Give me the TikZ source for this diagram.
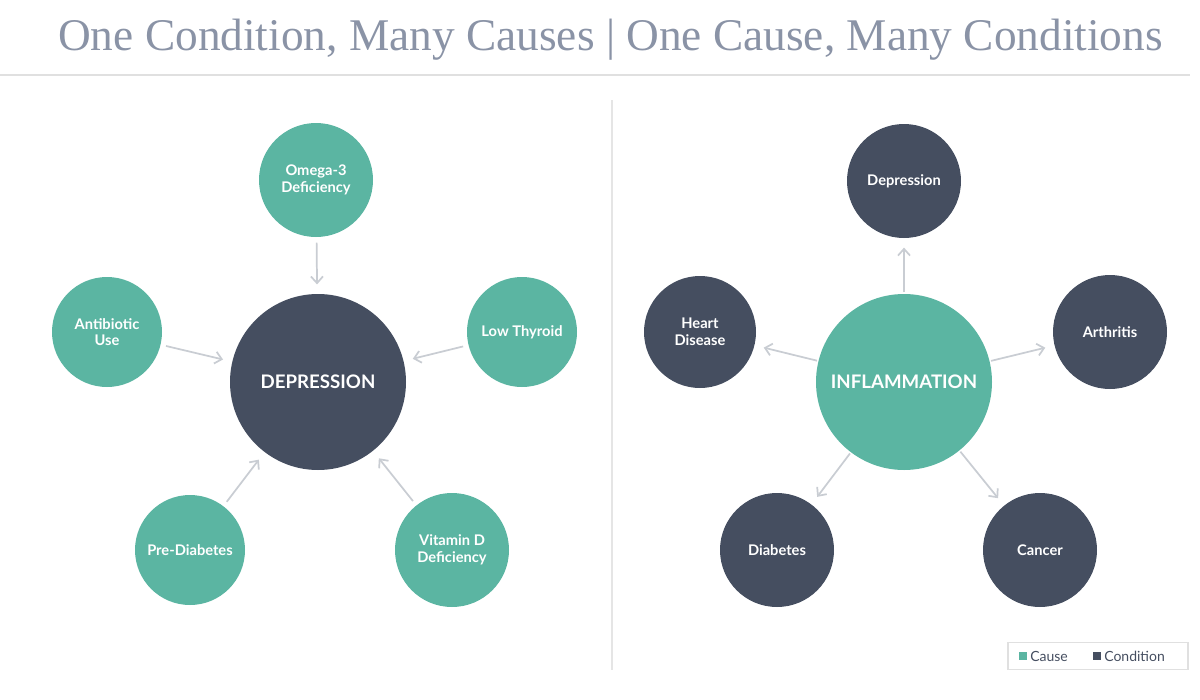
\documentclass[tikz,border=0pt]{standalone}
\usepackage{fontspec}
\setmainfont{Lato}
\newfontfamily\titlefont{Liberation Serif}
\usetikzlibrary{arrows.meta}
\definecolor{tealc}{HTML}{5BB5A2}
\definecolor{darkc}{HTML}{454E60}
\definecolor{ttl}{HTML}{8A93A6}
\definecolor{arrc}{HTML}{C9CDD3}
\begin{document}
\begin{tikzpicture}[x=0.75pt,y=-0.75pt,
  cause/.style={circle,fill=tealc,text=white,font=\bfseries\fontsize{11}{12.5}\selectfont,align=center,inner sep=0pt,minimum size=#1*0.75pt},
  cond/.style={circle,fill=darkc,text=white,font=\bfseries\fontsize{11}{12.5}\selectfont,align=center,inner sep=0pt,minimum size=#1*0.75pt},
  big/.style={font=\bfseries\fontsize{14}{16}\selectfont},
  arw/.style={draw=arrc,line width=1.3pt,-{Straight Barb[length=5pt,width=9pt]},shorten <=4pt,shorten >=7pt}]
\useasboundingbox (0,0) rectangle (1200,700);
\node[anchor=base west,text=ttl,font=\titlefont\fontsize{34}{36}\selectfont,inner sep=0pt] (title) at (58,50) {One Condition, Many Causes | One Cause, Many Conditions};
\draw[draw=black!12,line width=1pt] (0,75) -- (1190,75);
\draw[draw=black!10,line width=0.8pt] (612,100) -- (612,670);
% left
\node[cond=176,big] (dep) at (318,382) {DEPRESSION};
\node[cause=114] (om) at (316,180) {Omega-3\\Deficiency};
\node[cause=110] (ab) at (107,332) {Antibiotic\\Use};
\node[cause=110] (lt) at (522,332) {Low Thyroid};
\node[cause=110] (pd) at (190,550) {Pre-Diabetes};
\node[cause=114] (vd) at (452,550) {Vitamin D\\Deficiency};
\foreach \n in {om,ab,lt,pd,vd} \draw[arw] (\n) -- (dep);
% right
\node[cause=176,big] (inf) at (904,382) {INFLAMMATION};
\node[cond=114] (d2) at (904,181) {Depression};
\node[cond=112] (hd) at (700,332) {Heart\\Disease};
\node[cond=114] (arth) at (1110,332) {Arthritis};
\node[cond=114] (db) at (777,550) {Diabetes};
\node[cond=114] (ca) at (1040,550) {Cancer};
\foreach \n in {d2,hd,arth,db,ca} \draw[arw,shorten <=1pt] (inf) -- (\n);
% legend
\node[draw=black!12,line width=0.8pt,minimum width=135pt,minimum height=20pt,inner sep=0pt] (leg) at (1098,656) {};
\node[fill=tealc,minimum size=6pt,inner sep=0pt] (sq1) at (1023,656) {};
\node[anchor=west,text=darkc,font=\fontsize{10.5}{12}\selectfont,inner sep=0pt] (lab1) at (1030,656) {Cause};
\node[fill=darkc,minimum size=6pt,inner sep=0pt] (sq2) at (1097,656) {};
\node[anchor=west,text=darkc,font=\fontsize{10.5}{12}\selectfont,inner sep=0pt] (lab2) at (1104,656) {Condition};
\end{tikzpicture}
\end{document}
